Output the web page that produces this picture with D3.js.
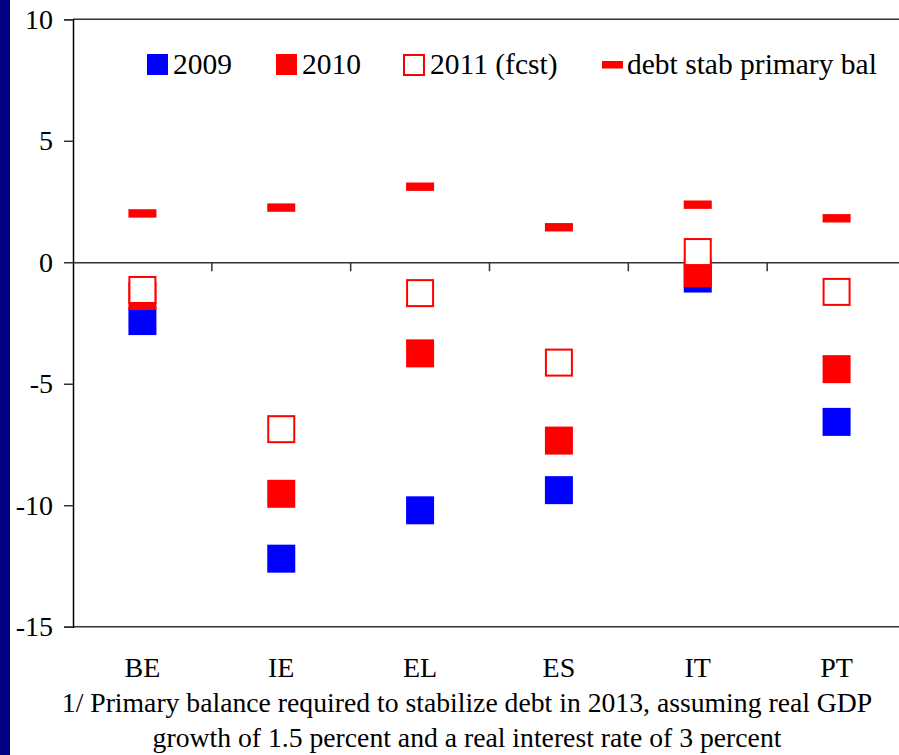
<!DOCTYPE html>
<html>
<head>
<meta charset="utf-8">
<script src="https://cdn.jsdelivr.net/npm/d3@7"></script>
<style>
  html, body { margin: 0; padding: 0; background: #fff; }
  svg { display: block; }
  text { font-family: "Liberation Serif", "Times New Roman", serif; fill: #000; }
</style>
</head>
<body>
<svg id="chart" width="899" height="755"></svg>
<script>
const categories = ["BE", "IE", "EL", "ES", "IT", "PT"];
const v2009 = [-2.42, -12.2, -10.21, -9.38, -0.67, -6.57];
const v2010 = [-1.39, -9.53, -3.75, -7.34, -0.45, -4.40];
const v2011 = [-1.14, -6.87, -1.27, -4.13, 0.42, -1.22];
const debtStab = [2.01, 2.25, 3.11, 1.44, 2.37, 1.81];
const yTicks = [10, 5, 0, -5, -10, -15];
const legendLabels = ["2009", "2010", "2011 (fcst)", "debt stab primary bal"];
const footnote = [
  "1/ Primary balance required to stabilize debt in 2013, assuming real GDP",
  "growth of 1.5 percent and a real interest rate of 3 percent"
];

const svg = d3.select("#chart");
const W = 899, H = 755;
const pLeft = 73, pRight = 906, pTop = 19.3, pBottom = 626.7;
const FONT = "Liberation Serif, Times New Roman, serif";

svg.append("rect").attr("x", 0).attr("y", 0).attr("width", W).attr("height", H).attr("fill", "#fff");
svg.append("rect").attr("x", 0).attr("y", 0).attr("width", 10).attr("height", H).attr("fill", "#000080");

const x = d3.scaleBand().domain(categories).range([pLeft, pRight]);
const y = d3.scaleLinear().domain([-15, 10]).range([pBottom, pTop]);

// top & bottom border lines
svg.append("line").attr("x1", pLeft).attr("x2", pRight).attr("y1", y(10)).attr("y2", y(10))
  .attr("stroke", "#333").attr("stroke-width", 1.5);
svg.append("line").attr("x1", pLeft).attr("x2", pRight).attr("y1", y(-15)).attr("y2", y(-15))
  .attr("stroke", "#333").attr("stroke-width", 1.5);

// y axis
const yAxis = d3.axisLeft(y).tickValues(yTicks).tickSize(9).tickPadding(11).tickFormat(d => String(d));
const gy = svg.append("g").attr("transform", `translate(${pLeft},0)`).call(yAxis)
  .attr("font-family", FONT);
gy.select(".domain").attr("stroke", "#000").attr("stroke-width", 1.5);
gy.selectAll(".tick line").attr("stroke", "#333").attr("stroke-width", 1.5);
gy.selectAll(".tick text").attr("font-size", 28).attr("fill", "#000");

// zero line with category ticks
const gx = svg.append("g").attr("transform", `translate(0,${y(0)})`)
  .call(d3.axisBottom(x).tickSize(0).tickFormat(""));
gx.select(".domain").attr("stroke", "#333").attr("stroke-width", 1.5);
gx.selectAll(".tick").remove();
const bounds = categories.slice(1).map(c => x(c));
gx.selectAll("line.sep").data(bounds).enter().append("line")
  .attr("x1", d => d).attr("x2", d => d).attr("y1", 0).attr("y2", 9)
  .attr("stroke", "#333").attr("stroke-width", 1.5);

// category labels
svg.selectAll("text.cat").data(categories).enter().append("text")
  .attr("class", "cat")
  .attr("x", d => x(d) + x.bandwidth() / 2)
  .attr("y", 677)
  .attr("text-anchor", "middle")
  .attr("font-size", 28)
  .text(d => d);

const cx = i => x(categories[i]) + x.bandwidth() / 2;
const S = 28;

// 2009
svg.selectAll("rect.s2009").data(v2009).enter().append("rect")
  .attr("x", (d, i) => cx(i) - S / 2).attr("y", d => y(d) - S / 2)
  .attr("width", S).attr("height", S).attr("fill", "#0000ff");
// 2010
svg.selectAll("rect.s2010").data(v2010).enter().append("rect")
  .attr("x", (d, i) => cx(i) - S / 2).attr("y", d => y(d) - S / 2)
  .attr("width", S).attr("height", S).attr("fill", "#ff0000");
// 2011
svg.selectAll("rect.s2011").data(v2011).enter().append("rect")
  .attr("x", (d, i) => cx(i) - S / 2 + 1).attr("y", d => y(d) - S / 2 + 1)
  .attr("width", S - 2).attr("height", S - 2).attr("fill", "#fff")
  .attr("stroke", "#ff0000").attr("stroke-width", 2);
// debt stab
svg.selectAll("rect.debt").data(debtStab).enter().append("rect")
  .attr("x", (d, i) => cx(i) - 14).attr("y", d => y(d) - 4.2)
  .attr("width", 28).attr("height", 8.4).attr("fill", "#ff0000");

// legend
const leg = svg.append("g");
const legX = [147, 276, 403, 602];
const legTextX = [173, 302, 430, 627];
leg.append("rect").attr("x", legX[0]).attr("y", 54).attr("width", 21).attr("height", 21).attr("fill", "#0000ff");
leg.append("rect").attr("x", legX[1]).attr("y", 54).attr("width", 21).attr("height", 21).attr("fill", "#ff0000");
leg.append("rect").attr("x", legX[2] + 1).attr("y", 55).attr("width", 20).attr("height", 20)
  .attr("fill", "#fff").attr("stroke", "#ff0000").attr("stroke-width", 2);
leg.append("rect").attr("x", legX[3]).attr("y", 61).attr("width", 21).attr("height", 7.5).attr("fill", "#ff0000");
leg.selectAll("text").data(legendLabels).enter().append("text")
  .attr("x", (d, i) => legTextX[i]).attr("y", 74)
  .attr("font-size", 29.5).text(d => d);

// footnote
svg.selectAll("text.foot").data(footnote).enter().append("text")
  .attr("class", "foot")
  .attr("x", 467).attr("y", (d, i) => 712 + i * 35)
  .attr("text-anchor", "middle").attr("font-size", 27.7)
  .text(d => d);
</script>
</body>
</html>
